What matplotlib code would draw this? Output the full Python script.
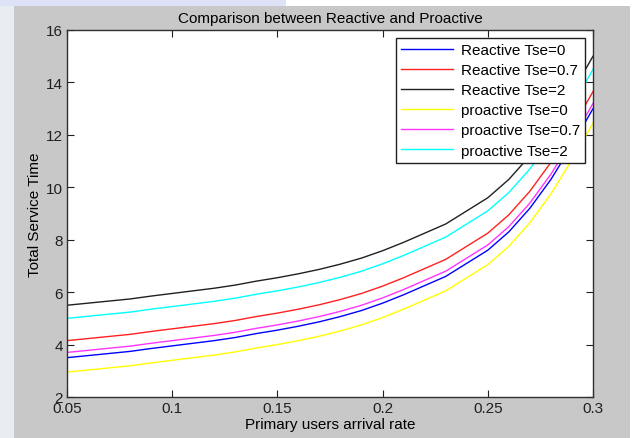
import matplotlib
matplotlib.use('Agg')
import matplotlib.pyplot as plt
from matplotlib.patches import Rectangle

# arrival rate grid
rate = [0.05, 0.06, 0.07, 0.08, 0.09, 0.10, 0.11, 0.12, 0.13, 0.14, 0.15, 0.16, 0.17,
        0.18, 0.19, 0.20, 0.21, 0.22, 0.23, 0.24, 0.25, 0.26, 0.27, 0.28, 0.29, 0.30]

reactive_0 = [3.5, 3.58, 3.66, 3.74, 3.85, 3.95, 4.05, 4.15, 4.27, 4.42, 4.55, 4.7, 4.87,
              5.07, 5.3, 5.58, 5.9, 6.25, 6.6, 7.1, 7.6, 8.3, 9.2, 10.3, 11.6, 13.0]
reactive_07 = [4.15, 4.23, 4.31, 4.39, 4.5, 4.6, 4.7, 4.8, 4.92, 5.07, 5.2, 5.35, 5.52,
               5.72, 5.95, 6.23, 6.55, 6.9, 7.25, 7.75, 8.25, 8.95, 9.85, 10.95, 12.25, 13.65]
reactive_2 = [5.5, 5.58, 5.66, 5.74, 5.85, 5.95, 6.05, 6.15, 6.27, 6.42, 6.55, 6.7, 6.87,
              7.07, 7.3, 7.58, 7.9, 8.25, 8.6, 9.1, 9.6, 10.3, 11.2, 12.3, 13.6, 15.0]
proactive_0 = [2.95, 3.03, 3.11, 3.19, 3.3, 3.4, 3.5, 3.6, 3.72, 3.87, 4.0, 4.15, 4.32,
               4.52, 4.75, 5.03, 5.35, 5.7, 6.05, 6.55, 7.05, 7.75, 8.65, 9.75, 11.05, 12.45]
proactive_07 = [3.7, 3.78, 3.86, 3.94, 4.05, 4.15, 4.25, 4.35, 4.47, 4.62, 4.75, 4.9, 5.07,
                5.27, 5.5, 5.78, 6.1, 6.45, 6.8, 7.3, 7.8, 8.5, 9.4, 10.5, 11.8, 13.2]
proactive_2 = [5.0, 5.08, 5.16, 5.24, 5.35, 5.45, 5.55, 5.65, 5.77, 5.92, 6.05, 6.2, 6.37,
               6.57, 6.8, 7.08, 7.4, 7.75, 8.1, 8.6, 9.1, 9.8, 10.7, 11.8, 13.1, 14.5]

labels = ['Reactive Tse=0', 'Reactive Tse=0.7', 'Reactive Tse=2',
          'proactive Tse=0', 'proactive Tse=0.7', 'proactive Tse=2']
colors = ['#0000ff', '#ff2020', '#202020', '#ffff00', '#ff33ff', '#00ffff']
series = [reactive_0, reactive_07, reactive_2, proactive_0, proactive_07, proactive_2]

plt.rcParams['font.family'] = ['Liberation Sans', 'DejaVu Sans']

fig = plt.figure(figsize=(6.36, 4.39), dpi=100, facecolor='white')
# page background behind the matlab window
fig.patches.append(Rectangle((0, 0), 14 / 636, 1, transform=fig.transFigure,
                             facecolor='#e8edf2', edgecolor='none', zorder=-3))
fig.patches.append(Rectangle((0, 1 - 7 / 439), 0.45, 7 / 439, transform=fig.transFigure,
                             facecolor='#dde2f6', edgecolor='none', zorder=-3))
fig.patches.append(Rectangle((14 / 636, 0), 616 / 636, 432 / 439, transform=fig.transFigure,
                             facecolor='#c8c8c8', edgecolor='none', zorder=-2))

ax = fig.add_axes([67 / 636, 41 / 439, 526 / 636, 367 / 439])
ax.set_facecolor('white')

for vals, c, lab in zip(series, colors, labels):
    ax.plot(rate, vals, color=c, lw=1.0, label=lab)

ax.set_xlim(0.05, 0.3)
ax.set_ylim(2, 16)
ax.set_xticks([0.05, 0.1, 0.15, 0.2, 0.25, 0.3])
ax.set_xticklabels(['0.05', '0.1', '0.15', '0.2', '0.25', '0.3'])
ax.set_yticks([2, 4, 6, 8, 10, 12, 14, 16])
ax.tick_params(direction='in', length=5, top=True, right=True, labelsize=11,
               colors='#202020', pad=3)
for s in ax.spines.values():
    s.set_color('#303030')
    s.set_linewidth(1.0)

ax.set_title('Comparison between Reactive and Proactive', fontsize=11, pad=6)
ax.set_xlabel('Primary users arrival rate', fontsize=11, labelpad=1)
ax.set_ylabel('Total Service Time', fontsize=11, labelpad=3)

leg = ax.legend(loc='upper right', fontsize=11, fancybox=False, framealpha=1,
                edgecolor='#202020', handlelength=3.4, handletextpad=0.5,
                borderaxespad=0.5, labelspacing=0.4, borderpad=0.35)
leg.get_frame().set_linewidth(1.0)

fig.savefig('out.png', dpi=100, facecolor=fig.get_facecolor())
